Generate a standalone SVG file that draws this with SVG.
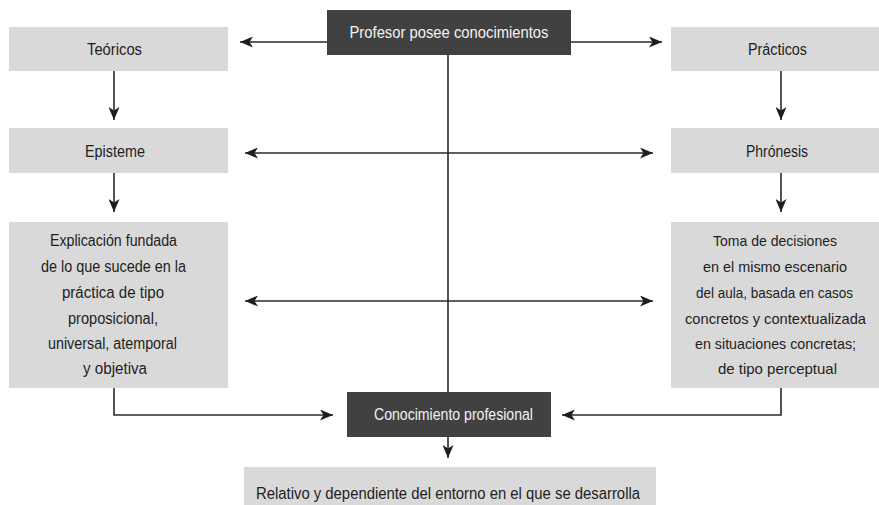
<svg xmlns="http://www.w3.org/2000/svg" width="879" height="505" viewBox="0 0 879 505">
<style>
.lb{fill:#d9d9d9}
.db{fill:#414141}
.t{font-family:"Liberation Sans",Arial,sans-serif;font-size:16px;fill:#1e1e1e;text-anchor:middle;dominant-baseline:central}
.ts{font-size:15px}
.tw{font-family:"Liberation Sans",Arial,sans-serif;font-size:16px;fill:#f2f2f2;text-anchor:middle;dominant-baseline:central}
.c{fill:none;stroke:#2a2a2a;stroke-width:1.6}
</style>
<defs>
<marker id="ah" markerUnits="userSpaceOnUse" markerWidth="13" markerHeight="11" viewBox="0 0 13 11" refX="13" refY="5.5" orient="auto-start-reverse">
<path d="M0,0 L13,5.5 L0,11 L3.5,5.5 z" fill="#1e1e1e"/>
</marker>
</defs>
<rect width="879" height="505" fill="#ffffff"/>
<g id="connectors">
<path class="c" d="M327,42 H240" marker-end="url(#ah)"/>
<path class="c" d="M571,42 H662" marker-end="url(#ah)"/>
<path class="c" d="M114,71 V120" marker-end="url(#ah)"/>
<path class="c" d="M781,71 V120" marker-end="url(#ah)"/>
<path class="c" d="M245,153 H653" marker-start="url(#ah)" marker-end="url(#ah)"/>
<path class="c" d="M114,173 V212" marker-end="url(#ah)"/>
<path class="c" d="M781,173 V212" marker-end="url(#ah)"/>
<path class="c" d="M245,301 H653" marker-start="url(#ah)" marker-end="url(#ah)"/>
<path class="c" d="M448,55 V392"/>
<path class="c" d="M114,388 V415 H333" marker-end="url(#ah)"/>
<path class="c" d="M781,388 V415 H562" marker-end="url(#ah)"/>
<path class="c" d="M448,437 V458" marker-end="url(#ah)"/>
</g>
<g id="profesor">
<rect class="db" x="327" y="10" width="244" height="45"/>
<text class="tw" x="449" y="32" textLength="199" lengthAdjust="spacingAndGlyphs">Profesor posee conocimientos</text>
</g>
<g id="teoricos">
<rect class="lb" x="9" y="27" width="219" height="44"/>
<text class="t" x="114.5" y="49" textLength="55" lengthAdjust="spacingAndGlyphs">Teóricos</text>
</g>
<g id="practicos">
<rect class="lb" x="671" y="27" width="208" height="44"/>
<text class="t" x="777.5" y="49" textLength="59" lengthAdjust="spacingAndGlyphs">Prácticos</text>
</g>
<g id="episteme">
<rect class="lb" x="9" y="128" width="219" height="45"/>
<text class="t" x="115" y="151" textLength="60" lengthAdjust="spacingAndGlyphs">Episteme</text>
</g>
<g id="phronesis">
<rect class="lb" x="671" y="128" width="208" height="45"/>
<text class="t" x="777" y="151" textLength="62" lengthAdjust="spacingAndGlyphs">Phrónesis</text>
</g>
<g id="explicacion">
<rect class="lb" x="9" y="222" width="219" height="166"/>
<text class="t" x="113.5" y="240" textLength="127" lengthAdjust="spacingAndGlyphs">Explicación fundada</text>
<text class="t" x="113.5" y="266" textLength="145" lengthAdjust="spacingAndGlyphs">de lo que sucede en la</text>
<text class="t" x="113" y="292" textLength="102" lengthAdjust="spacingAndGlyphs">práctica de tipo</text>
<text class="t" x="113" y="318" textLength="90" lengthAdjust="spacingAndGlyphs">proposicional,</text>
<text class="t" x="112.5" y="343" textLength="129" lengthAdjust="spacingAndGlyphs">universal, atemporal</text>
<text class="t" x="115" y="368" textLength="64" lengthAdjust="spacingAndGlyphs">y objetiva</text>
</g>
<g id="toma">
<rect class="lb" x="671" y="222" width="208" height="166"/>
<text class="t ts" x="775" y="240" textLength="124" lengthAdjust="spacingAndGlyphs">Toma de decisiones</text>
<text class="t ts" x="775" y="266" textLength="144" lengthAdjust="spacingAndGlyphs">en el mismo escenario</text>
<text class="t ts" x="774.5" y="292" textLength="157" lengthAdjust="spacingAndGlyphs">del aula, basada en casos</text>
<text class="t ts" x="775.5" y="318" textLength="181" lengthAdjust="spacingAndGlyphs">concretos y contextualizada</text>
<text class="t ts" x="775.5" y="343" textLength="161" lengthAdjust="spacingAndGlyphs">en situaciones concretas;</text>
<text class="t ts" x="777.5" y="368" textLength="119" lengthAdjust="spacingAndGlyphs">de tipo perceptual</text>
</g>
<g id="conocimiento">
<rect class="db" x="347" y="392" width="204" height="45"/>
<text class="tw" x="453.5" y="414" textLength="159" lengthAdjust="spacingAndGlyphs">Conocimiento profesional</text>
</g>
<g id="relativo">
<rect class="lb" x="244" y="467" width="412" height="38"/>
<text class="t" x="448" y="493" textLength="384" lengthAdjust="spacingAndGlyphs">Relativo y dependiente del entorno en el que se desarrolla</text>
</g>
</svg>
